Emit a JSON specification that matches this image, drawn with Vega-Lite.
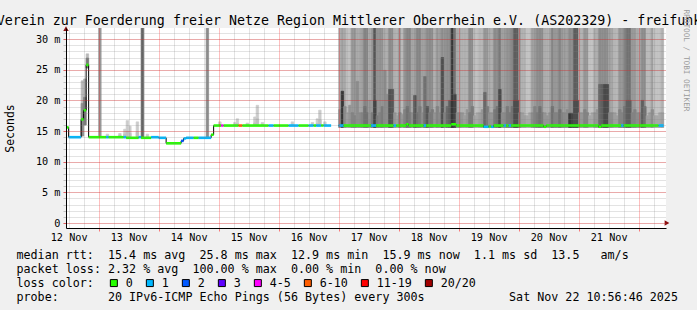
{
  "width": 600,
  "height": 200,
  "autosize": {"type": "none"},
  "padding": {"left": 66, "top": 28, "right": 31, "bottom": 82},
  "background": "#f0f0f0",
  "config": {
    "view": {"fill": "#ffffff", "stroke": null},
    "font": "DejaVu Sans Mono",
    "axis": {"labelFont": "DejaVu Sans Mono", "titleFont": "DejaVu Sans Mono"}
  },
  "datasets": {
    "smoke": [
      {"t":"2025-11-12T17:00","t2":"2025-11-12T18:00","lo":14.2,"mid":19.5,"hi":23.2,"up":0.15,"low":0.4},
      {"t":"2025-11-12T18:00","t2":"2025-11-12T19:00","lo":16.0,"mid":20.5,"hi":23.5,"up":0.2,"low":0.5},
      {"t":"2025-11-12T19:00","t2":"2025-11-12T20:00","lo":25.3,"mid":26.9,"hi":27.6,"up":0.15,"low":0.5},
      {"t":"2025-11-13T00:00","t2":"2025-11-13T01:00","lo":14.1,"mid":14.1,"hi":45,"up":0.33,"low":0.33},
      {"t":"2025-11-13T03:00","t2":"2025-11-13T04:00","lo":14.1,"mid":14.2,"hi":14.5,"up":0.05,"low":0.12},
      {"t":"2025-11-13T08:00","t2":"2025-11-13T09:00","lo":14.1,"mid":14.3,"hi":14.6,"up":0.05,"low":0.12},
      {"t":"2025-11-13T10:00","t2":"2025-11-13T11:00","lo":14.1,"mid":14.5,"hi":15.3,"up":0.04,"low":0.1},
      {"t":"2025-11-13T11:00","t2":"2025-11-13T12:00","lo":14.1,"mid":15.0,"hi":16.7,"up":0.05,"low":0.12},
      {"t":"2025-11-13T12:00","t2":"2025-11-13T13:00","lo":14.1,"mid":14.6,"hi":15.8,"up":0.04,"low":0.1},
      {"t":"2025-11-13T15:00","t2":"2025-11-13T16:00","lo":14.1,"mid":14.8,"hi":16.5,"up":0.05,"low":0.12},
      {"t":"2025-11-13T17:00","t2":"2025-11-13T18:00","lo":14.1,"mid":14.1,"hi":45,"up":0.62,"low":0.62},
      {"t":"2025-11-13T19:00","t2":"2025-11-13T20:00","lo":14.1,"mid":14.2,"hi":14.5,"up":0.04,"low":0.1},
      {"t":"2025-11-14T19:00","t2":"2025-11-14T20:00","lo":14.0,"mid":14.0,"hi":45,"up":0.4,"low":0.4},
      {"t":"2025-11-15T00:00","t2":"2025-11-15T01:00","lo":15.9,"mid":16.1,"hi":16.5,"up":0.04,"low":0.1},
      {"t":"2025-11-15T06:00","t2":"2025-11-15T07:00","lo":15.9,"mid":16.1,"hi":16.4,"up":0.04,"low":0.1},
      {"t":"2025-11-15T07:00","t2":"2025-11-15T08:00","lo":15.9,"mid":16.2,"hi":17.0,"up":0.04,"low":0.1},
      {"t":"2025-11-15T11:00","t2":"2025-11-15T12:00","lo":15.9,"mid":16.1,"hi":16.3,"up":0.04,"low":0.1},
      {"t":"2025-11-15T14:00","t2":"2025-11-15T15:00","lo":15.9,"mid":16.3,"hi":17.3,"up":0.04,"low":0.1},
      {"t":"2025-11-15T15:00","t2":"2025-11-15T16:00","lo":15.9,"mid":17.0,"hi":19.2,"up":0.05,"low":0.12},
      {"t":"2025-11-15T17:00","t2":"2025-11-15T18:00","lo":15.9,"mid":16.1,"hi":16.4,"up":0.04,"low":0.1},
      {"t":"2025-11-16T05:00","t2":"2025-11-16T06:00","lo":15.9,"mid":16.1,"hi":16.5,"up":0.04,"low":0.1},
      {"t":"2025-11-16T13:00","t2":"2025-11-16T14:00","lo":15.9,"mid":16.1,"hi":16.4,"up":0.04,"low":0.1},
      {"t":"2025-11-16T15:00","t2":"2025-11-16T16:00","lo":15.9,"mid":16.2,"hi":17.0,"up":0.04,"low":0.1},
      {"t":"2025-11-16T16:00","t2":"2025-11-16T17:00","lo":15.9,"mid":16.8,"hi":18.4,"up":0.05,"low":0.12},
      {"t":"2025-11-16T18:00","t2":"2025-11-16T19:00","lo":15.9,"mid":16.1,"hi":16.5,"up":0.04,"low":0.1},
      {"t":"2025-11-17T00:00","t2":"2025-11-17T01:00","lo":15.6,"mid":18.5,"hi":45,"up":0.2,"low":0.35},
      {"t":"2025-11-17T01:00","t2":"2025-11-17T02:00","lo":15.6,"mid":21.5,"hi":45,"up":0.3,"low":0.87},
      {"t":"2025-11-17T02:00","t2":"2025-11-17T03:00","lo":15.6,"mid":19,"hi":45,"up":0.25,"low":0.4},
      {"t":"2025-11-17T03:00","t2":"2025-11-17T04:00","lo":15.6,"mid":18,"hi":45,"up":0.15,"low":0.3},
      {"t":"2025-11-17T04:00","t2":"2025-11-17T05:00","lo":15.6,"mid":19.2,"hi":45,"up":0.1,"low":0.35},
      {"t":"2025-11-17T05:00","t2":"2025-11-17T06:00","lo":15.6,"mid":18,"hi":45,"up":0.35,"low":0.45},
      {"t":"2025-11-17T06:00","t2":"2025-11-17T07:00","lo":15.6,"mid":17.5,"hi":45,"up":0.35,"low":0.45},
      {"t":"2025-11-17T07:00","t2":"2025-11-17T08:00","lo":15.6,"mid":23.1,"hi":45,"up":0.25,"low":0.4},
      {"t":"2025-11-17T08:00","t2":"2025-11-17T09:00","lo":15.6,"mid":18,"hi":45,"up":0.25,"low":0.4},
      {"t":"2025-11-17T09:00","t2":"2025-11-17T10:00","lo":15.6,"mid":18,"hi":45,"up":0.3,"low":0.45},
      {"t":"2025-11-17T10:00","t2":"2025-11-17T11:00","lo":15.6,"mid":19,"hi":45,"up":0.44,"low":0.55},
      {"t":"2025-11-17T11:00","t2":"2025-11-17T12:00","lo":15.6,"mid":18,"hi":45,"up":0.44,"low":0.55},
      {"t":"2025-11-17T12:00","t2":"2025-11-17T13:00","lo":15.6,"mid":20,"hi":45,"up":0.2,"low":0.35},
      {"t":"2025-11-17T13:00","t2":"2025-11-17T14:00","lo":15.6,"mid":18,"hi":45,"up":0.35,"low":0.5},
      {"t":"2025-11-17T14:00","t2":"2025-11-17T15:00","lo":15.6,"mid":20,"hi":45,"up":0.7,"low":0.8},
      {"t":"2025-11-17T15:00","t2":"2025-11-17T16:00","lo":15.6,"mid":17.5,"hi":45,"up":0.37,"low":0.5},
      {"t":"2025-11-17T16:00","t2":"2025-11-17T17:00","lo":15.6,"mid":18,"hi":45,"up":0.37,"low":0.45},
      {"t":"2025-11-17T17:00","t2":"2025-11-17T18:00","lo":15.6,"mid":19,"hi":45,"up":0.37,"low":0.5},
      {"t":"2025-11-17T18:00","t2":"2025-11-17T19:00","lo":15.6,"mid":24.9,"hi":45,"up":0.22,"low":0.4},
      {"t":"2025-11-17T19:00","t2":"2025-11-17T20:00","lo":15.6,"mid":21,"hi":45,"up":0.22,"low":0.4},
      {"t":"2025-11-17T20:00","t2":"2025-11-17T21:00","lo":15.6,"mid":21.8,"hi":45,"up":0.4,"low":0.72},
      {"t":"2025-11-17T21:00","t2":"2025-11-17T22:00","lo":15.6,"mid":21.8,"hi":45,"up":0.4,"low":0.7},
      {"t":"2025-11-17T22:00","t2":"2025-11-17T23:00","lo":15.6,"mid":18,"hi":45,"up":0.2,"low":0.35},
      {"t":"2025-11-17T23:00","t2":"2025-11-18T00:00","lo":15.6,"mid":17.5,"hi":45,"up":0.2,"low":0.3},
      {"t":"2025-11-18T00:00","t2":"2025-11-18T01:00","lo":15.6,"mid":18,"hi":45,"up":0.35,"low":0.45},
      {"t":"2025-11-18T01:00","t2":"2025-11-18T02:00","lo":15.6,"mid":17.7,"hi":45,"up":0.15,"low":0.35},
      {"t":"2025-11-18T02:00","t2":"2025-11-18T03:00","lo":15.6,"mid":18.5,"hi":45,"up":0.35,"low":0.45},
      {"t":"2025-11-18T03:00","t2":"2025-11-18T04:00","lo":15.6,"mid":19,"hi":45,"up":0.44,"low":0.55},
      {"t":"2025-11-18T04:00","t2":"2025-11-18T05:00","lo":15.6,"mid":18,"hi":45,"up":0.44,"low":0.5},
      {"t":"2025-11-18T05:00","t2":"2025-11-18T06:00","lo":15.6,"mid":18,"hi":45,"up":0.27,"low":0.4},
      {"t":"2025-11-18T06:00","t2":"2025-11-18T07:00","lo":15.6,"mid":20.8,"hi":45,"up":0.27,"low":0.7},
      {"t":"2025-11-18T07:00","t2":"2025-11-18T08:00","lo":15.6,"mid":18,"hi":45,"up":0.44,"low":0.55},
      {"t":"2025-11-18T08:00","t2":"2025-11-18T09:00","lo":15.6,"mid":19,"hi":45,"up":0.44,"low":0.5},
      {"t":"2025-11-18T09:00","t2":"2025-11-18T10:00","lo":15.6,"mid":18,"hi":45,"up":0.3,"low":0.4},
      {"t":"2025-11-18T10:00","t2":"2025-11-18T11:00","lo":15.6,"mid":23.9,"hi":45,"up":0.3,"low":0.55},
      {"t":"2025-11-18T11:00","t2":"2025-11-18T12:00","lo":15.6,"mid":19,"hi":45,"up":0.4,"low":0.7},
      {"t":"2025-11-18T12:00","t2":"2025-11-18T13:00","lo":15.6,"mid":18,"hi":45,"up":0.4,"low":0.5},
      {"t":"2025-11-18T13:00","t2":"2025-11-18T14:00","lo":15.6,"mid":18.5,"hi":45,"up":0.4,"low":0.5},
      {"t":"2025-11-18T14:00","t2":"2025-11-18T15:00","lo":15.6,"mid":18,"hi":45,"up":0.2,"low":0.35},
      {"t":"2025-11-18T15:00","t2":"2025-11-18T16:00","lo":15.6,"mid":19,"hi":45,"up":0.35,"low":0.45},
      {"t":"2025-11-18T16:00","t2":"2025-11-18T17:00","lo":15.6,"mid":18,"hi":45,"up":0.3,"low":0.4},
      {"t":"2025-11-18T17:00","t2":"2025-11-18T18:00","lo":15.6,"mid":27,"hi":45,"up":0.4,"low":0.74},
      {"t":"2025-11-18T18:00","t2":"2025-11-18T19:00","lo":15.6,"mid":18,"hi":45,"up":0.35,"low":0.45},
      {"t":"2025-11-18T19:00","t2":"2025-11-18T20:00","lo":15.6,"mid":19,"hi":45,"up":0.4,"low":0.6},
      {"t":"2025-11-18T20:00","t2":"2025-11-18T21:00","lo":15.6,"mid":20,"hi":45,"up":0.4,"low":0.65},
      {"t":"2025-11-18T21:00","t2":"2025-11-18T22:00","lo":15.6,"mid":20,"hi":45,"up":0.87,"low":0.87},
      {"t":"2025-11-18T22:00","t2":"2025-11-18T23:00","lo":15.6,"mid":21,"hi":45,"up":0.55,"low":0.8},
      {"t":"2025-11-18T23:00","t2":"2025-11-19T00:00","lo":15.6,"mid":18,"hi":45,"up":0.25,"low":0.4},
      {"t":"2025-11-19T00:00","t2":"2025-11-19T01:00","lo":15.6,"mid":18,"hi":45,"up":0.25,"low":0.4},
      {"t":"2025-11-19T01:00","t2":"2025-11-19T02:00","lo":15.6,"mid":18,"hi":45,"up":0.2,"low":0.35},
      {"t":"2025-11-19T02:00","t2":"2025-11-19T03:00","lo":15.6,"mid":17.5,"hi":45,"up":0.2,"low":0.3},
      {"t":"2025-11-19T03:00","t2":"2025-11-19T04:00","lo":15.6,"mid":18.5,"hi":45,"up":0.2,"low":0.35},
      {"t":"2025-11-19T04:00","t2":"2025-11-19T05:00","lo":15.6,"mid":18,"hi":45,"up":0.4,"low":0.5},
      {"t":"2025-11-19T05:00","t2":"2025-11-19T06:00","lo":15.6,"mid":19,"hi":45,"up":0.4,"low":0.5},
      {"t":"2025-11-19T06:00","t2":"2025-11-19T07:00","lo":15.6,"mid":17.5,"hi":45,"up":0.12,"low":0.25},
      {"t":"2025-11-19T07:00","t2":"2025-11-19T08:00","lo":15.6,"mid":18,"hi":45,"up":0.12,"low":0.25},
      {"t":"2025-11-19T08:00","t2":"2025-11-19T09:00","lo":15.6,"mid":18,"hi":45,"up":0.17,"low":0.3},
      {"t":"2025-11-19T09:00","t2":"2025-11-19T10:00","lo":15.6,"mid":18.5,"hi":45,"up":0.17,"low":0.35},
      {"t":"2025-11-19T10:00","t2":"2025-11-19T11:00","lo":15.6,"mid":21.3,"hi":45,"up":0.35,"low":0.6},
      {"t":"2025-11-19T11:00","t2":"2025-11-19T12:00","lo":15.6,"mid":19,"hi":45,"up":0.35,"low":0.5},
      {"t":"2025-11-19T12:00","t2":"2025-11-19T13:00","lo":15.6,"mid":18,"hi":45,"up":0.22,"low":0.35},
      {"t":"2025-11-19T13:00","t2":"2025-11-19T14:00","lo":15.6,"mid":18,"hi":45,"up":0.22,"low":0.35},
      {"t":"2025-11-19T14:00","t2":"2025-11-19T15:00","lo":15.6,"mid":18.5,"hi":45,"up":0.4,"low":0.5},
      {"t":"2025-11-19T15:00","t2":"2025-11-19T16:00","lo":15.6,"mid":19,"hi":45,"up":0.4,"low":0.55},
      {"t":"2025-11-19T16:00","t2":"2025-11-19T17:00","lo":15.6,"mid":21.8,"hi":45,"up":0.5,"low":0.76},
      {"t":"2025-11-19T17:00","t2":"2025-11-19T18:00","lo":15.6,"mid":18,"hi":45,"up":0.3,"low":0.4},
      {"t":"2025-11-19T18:00","t2":"2025-11-19T19:00","lo":15.6,"mid":18,"hi":45,"up":0.3,"low":0.4},
      {"t":"2025-11-19T19:00","t2":"2025-11-19T20:00","lo":15.6,"mid":19,"hi":45,"up":0.37,"low":0.5},
      {"t":"2025-11-19T20:00","t2":"2025-11-19T21:00","lo":15.6,"mid":18,"hi":45,"up":0.37,"low":0.5},
      {"t":"2025-11-19T21:00","t2":"2025-11-19T22:00","lo":15.6,"mid":19,"hi":45,"up":0.44,"low":0.55},
      {"t":"2025-11-19T22:00","t2":"2025-11-19T23:00","lo":15.6,"mid":20,"hi":45,"up":0.66,"low":0.75},
      {"t":"2025-11-19T23:00","t2":"2025-11-20T00:00","lo":15.6,"mid":20,"hi":45,"up":0.66,"low":0.75},
      {"t":"2025-11-20T00:00","t2":"2025-11-20T01:00","lo":15.6,"mid":18,"hi":45,"up":0.34,"low":0.45},
      {"t":"2025-11-20T01:00","t2":"2025-11-20T02:00","lo":15.6,"mid":18,"hi":45,"up":0.2,"low":0.3},
      {"t":"2025-11-20T02:00","t2":"2025-11-20T03:00","lo":15.6,"mid":17.5,"hi":45,"up":0.2,"low":0.3},
      {"t":"2025-11-20T03:00","t2":"2025-11-20T04:00","lo":15.6,"mid":17.5,"hi":45,"up":0.1,"low":0.25},
      {"t":"2025-11-20T04:00","t2":"2025-11-20T05:00","lo":15.6,"mid":18,"hi":45,"up":0.1,"low":0.25},
      {"t":"2025-11-20T05:00","t2":"2025-11-20T06:00","lo":15.6,"mid":18,"hi":45,"up":0.3,"low":0.4},
      {"t":"2025-11-20T06:00","t2":"2025-11-20T07:00","lo":15.6,"mid":19,"hi":45,"up":0.3,"low":0.45},
      {"t":"2025-11-20T07:00","t2":"2025-11-20T08:00","lo":15.6,"mid":18,"hi":45,"up":0.4,"low":0.5},
      {"t":"2025-11-20T08:00","t2":"2025-11-20T09:00","lo":15.6,"mid":19,"hi":45,"up":0.4,"low":0.55},
      {"t":"2025-11-20T09:00","t2":"2025-11-20T10:00","lo":15.6,"mid":18,"hi":45,"up":0.4,"low":0.5},
      {"t":"2025-11-20T10:00","t2":"2025-11-20T11:00","lo":15.6,"mid":18,"hi":45,"up":0.22,"low":0.35},
      {"t":"2025-11-20T11:00","t2":"2025-11-20T12:00","lo":15.6,"mid":17.5,"hi":45,"up":0.22,"low":0.35},
      {"t":"2025-11-20T12:00","t2":"2025-11-20T13:00","lo":15.6,"mid":18,"hi":45,"up":0.22,"low":0.35},
      {"t":"2025-11-20T13:00","t2":"2025-11-20T14:00","lo":15.6,"mid":19,"hi":45,"up":0.44,"low":0.55},
      {"t":"2025-11-20T14:00","t2":"2025-11-20T15:00","lo":15.6,"mid":18,"hi":45,"up":0.34,"low":0.45},
      {"t":"2025-11-20T15:00","t2":"2025-11-20T16:00","lo":15.6,"mid":18,"hi":45,"up":0.35,"low":0.45},
      {"t":"2025-11-20T16:00","t2":"2025-11-20T17:00","lo":15.6,"mid":18.5,"hi":45,"up":0.44,"low":0.55},
      {"t":"2025-11-20T17:00","t2":"2025-11-20T18:00","lo":15.6,"mid":18,"hi":45,"up":0.35,"low":0.45},
      {"t":"2025-11-20T18:00","t2":"2025-11-20T19:00","lo":15.6,"mid":18,"hi":45,"up":0.3,"low":0.4},
      {"t":"2025-11-20T19:00","t2":"2025-11-20T20:00","lo":15.6,"mid":18.5,"hi":45,"up":0.3,"low":0.4},
      {"t":"2025-11-20T20:00","t2":"2025-11-20T21:00","lo":15.6,"mid":17.9,"hi":45,"up":0.4,"low":0.87},
      {"t":"2025-11-20T21:00","t2":"2025-11-20T22:00","lo":15.6,"mid":17.9,"hi":45,"up":0.4,"low":0.8},
      {"t":"2025-11-20T22:00","t2":"2025-11-20T23:00","lo":15.6,"mid":20,"hi":45,"up":0.66,"low":0.75},
      {"t":"2025-11-20T23:00","t2":"2025-11-21T00:00","lo":15.6,"mid":20,"hi":45,"up":0.66,"low":0.75},
      {"t":"2025-11-21T00:00","t2":"2025-11-21T01:00","lo":15.6,"mid":18,"hi":45,"up":0.2,"low":0.35},
      {"t":"2025-11-21T01:00","t2":"2025-11-21T02:00","lo":15.6,"mid":18,"hi":45,"up":0.2,"low":0.35},
      {"t":"2025-11-21T02:00","t2":"2025-11-21T03:00","lo":15.6,"mid":18.5,"hi":45,"up":0.35,"low":0.45},
      {"t":"2025-11-21T03:00","t2":"2025-11-21T04:00","lo":15.6,"mid":18,"hi":45,"up":0.35,"low":0.45},
      {"t":"2025-11-21T04:00","t2":"2025-11-21T05:00","lo":15.6,"mid":17.5,"hi":45,"up":0.1,"low":0.25},
      {"t":"2025-11-21T05:00","t2":"2025-11-21T06:00","lo":15.6,"mid":18,"hi":45,"up":0.1,"low":0.25},
      {"t":"2025-11-21T06:00","t2":"2025-11-21T07:00","lo":15.6,"mid":18,"hi":45,"up":0.22,"low":0.35},
      {"t":"2025-11-21T07:00","t2":"2025-11-21T08:00","lo":15.6,"mid":18.5,"hi":45,"up":0.22,"low":0.35},
      {"t":"2025-11-21T08:00","t2":"2025-11-21T09:00","lo":15.6,"mid":22.6,"hi":45,"up":0.4,"low":0.6},
      {"t":"2025-11-21T09:00","t2":"2025-11-21T10:00","lo":15.6,"mid":22.6,"hi":45,"up":0.4,"low":0.65},
      {"t":"2025-11-21T10:00","t2":"2025-11-21T11:00","lo":15.6,"mid":22.6,"hi":45,"up":0.4,"low":0.76},
      {"t":"2025-11-21T11:00","t2":"2025-11-21T12:00","lo":15.6,"mid":22.6,"hi":45,"up":0.4,"low":0.76},
      {"t":"2025-11-21T12:00","t2":"2025-11-21T13:00","lo":15.6,"mid":18,"hi":45,"up":0.27,"low":0.4},
      {"t":"2025-11-21T13:00","t2":"2025-11-21T14:00","lo":15.6,"mid":18,"hi":45,"up":0.27,"low":0.4},
      {"t":"2025-11-21T14:00","t2":"2025-11-21T15:00","lo":15.6,"mid":18,"hi":45,"up":0.17,"low":0.3},
      {"t":"2025-11-21T15:00","t2":"2025-11-21T16:00","lo":15.6,"mid":17.5,"hi":45,"up":0.17,"low":0.3},
      {"t":"2025-11-21T16:00","t2":"2025-11-21T17:00","lo":15.6,"mid":18.5,"hi":45,"up":0.35,"low":0.45},
      {"t":"2025-11-21T17:00","t2":"2025-11-21T18:00","lo":15.6,"mid":18,"hi":45,"up":0.35,"low":0.45},
      {"t":"2025-11-21T18:00","t2":"2025-11-21T19:00","lo":15.6,"mid":19,"hi":45,"up":0.44,"low":0.55},
      {"t":"2025-11-21T19:00","t2":"2025-11-21T20:00","lo":15.6,"mid":20,"hi":45,"up":0.55,"low":0.65},
      {"t":"2025-11-21T20:00","t2":"2025-11-21T21:00","lo":15.6,"mid":20,"hi":45,"up":0.55,"low":0.65},
      {"t":"2025-11-21T21:00","t2":"2025-11-21T22:00","lo":15.6,"mid":18,"hi":45,"up":0.34,"low":0.45},
      {"t":"2025-11-21T22:00","t2":"2025-11-21T23:00","lo":15.6,"mid":18.5,"hi":45,"up":0.34,"low":0.45},
      {"t":"2025-11-21T23:00","t2":"2025-11-22T00:00","lo":15.6,"mid":18,"hi":45,"up":0.25,"low":0.4},
      {"t":"2025-11-22T00:00","t2":"2025-11-22T01:00","lo":15.6,"mid":18,"hi":45,"up":0.25,"low":0.4},
      {"t":"2025-11-22T01:00","t2":"2025-11-22T02:00","lo":15.6,"mid":20,"hi":45,"up":0.4,"low":0.65},
      {"t":"2025-11-22T02:00","t2":"2025-11-22T03:00","lo":15.6,"mid":19,"hi":45,"up":0.4,"low":0.55},
      {"t":"2025-11-22T03:00","t2":"2025-11-22T04:00","lo":15.6,"mid":17.5,"hi":45,"up":0.15,"low":0.3},
      {"t":"2025-11-22T04:00","t2":"2025-11-22T05:00","lo":15.6,"mid":18,"hi":45,"up":0.15,"low":0.3},
      {"t":"2025-11-22T05:00","t2":"2025-11-22T06:00","lo":15.6,"mid":18.5,"hi":45,"up":0.3,"low":0.4},
      {"t":"2025-11-22T06:00","t2":"2025-11-22T07:00","lo":15.6,"mid":17.5,"hi":45,"up":0.1,"low":0.25},
      {"t":"2025-11-22T07:00","t2":"2025-11-22T08:00","lo":15.6,"mid":17.5,"hi":45,"up":0.1,"low":0.25},
      {"t":"2025-11-22T08:00","t2":"2025-11-22T09:00","lo":15.6,"mid":18,"hi":45,"up":0.1,"low":0.25},
      {"t":"2025-11-22T09:00","t2":"2025-11-22T10:00","lo":15.6,"mid":18,"hi":45,"up":0.2,"low":0.3}
    ],
    "median": [
      {"s":"2025-11-12T11:00","e":"2025-11-12T12:00","m":15.6,"loss":"0","run":1},
      {"s":"2025-11-12T12:00","e":"2025-11-12T17:00","m":14.0,"loss":"1","run":1},
      {"s":"2025-11-12T17:00","e":"2025-11-12T18:00","m":16.9,"loss":"0","run":1},
      {"s":"2025-11-12T18:00","e":"2025-11-12T19:00","m":18.4,"loss":"0","run":1},
      {"s":"2025-11-12T19:00","e":"2025-11-12T20:00","m":25.8,"loss":"0","run":1},
      {"s":"2025-11-12T20:00","e":"2025-11-13T03:00","m":14.0,"loss":"0","run":1},
      {"s":"2025-11-13T03:00","e":"2025-11-13T04:00","m":14.0,"loss":"1","run":1},
      {"s":"2025-11-13T04:00","e":"2025-11-13T10:00","m":14.0,"loss":"0","run":1},
      {"s":"2025-11-13T10:00","e":"2025-11-13T11:00","m":14.0,"loss":"1","run":1},
      {"s":"2025-11-13T11:00","e":"2025-11-13T16:00","m":13.9,"loss":"0","run":1},
      {"s":"2025-11-13T16:00","e":"2025-11-13T17:00","m":14.0,"loss":"1","run":1},
      {"s":"2025-11-13T17:00","e":"2025-11-13T21:00","m":13.9,"loss":"0","run":1},
      {"s":"2025-11-13T21:00","e":"2025-11-14T00:00","m":14.0,"loss":"1","run":1},
      {"s":"2025-11-14T00:00","e":"2025-11-14T03:00","m":13.9,"loss":"1","run":1},
      {"s":"2025-11-14T03:00","e":"2025-11-14T09:00","m":13.0,"loss":"0","run":1},
      {"s":"2025-11-14T09:00","e":"2025-11-14T10:00","m":13.4,"loss":"2","run":1},
      {"s":"2025-11-14T10:00","e":"2025-11-14T11:00","m":13.8,"loss":"1","run":1},
      {"s":"2025-11-14T11:00","e":"2025-11-14T14:00","m":13.9,"loss":"1","run":1},
      {"s":"2025-11-14T14:00","e":"2025-11-14T16:00","m":13.9,"loss":"0","run":1},
      {"s":"2025-11-14T16:00","e":"2025-11-14T21:00","m":13.9,"loss":"1","run":1},
      {"s":"2025-11-14T21:00","e":"2025-11-14T22:00","m":14.4,"loss":"0","run":1},
      {"s":"2025-11-14T22:00","e":"2025-11-15T01:00","m":15.9,"loss":"0","run":1},
      {"s":"2025-11-15T01:00","e":"2025-11-15T02:00","m":15.9,"loss":"4-5","run":1},
      {"s":"2025-11-15T02:00","e":"2025-11-15T08:00","m":15.9,"loss":"0","run":1},
      {"s":"2025-11-15T08:00","e":"2025-11-15T09:30","m":15.9,"loss":"6-10","run":1},
      {"s":"2025-11-15T09:30","e":"2025-11-15T20:00","m":15.9,"loss":"0","run":1},
      {"s":"2025-11-15T20:00","e":"2025-11-15T22:00","m":15.9,"loss":"1","run":1},
      {"s":"2025-11-15T22:00","e":"2025-11-16T04:00","m":15.9,"loss":"0","run":1},
      {"s":"2025-11-16T04:00","e":"2025-11-16T08:00","m":15.9,"loss":"1","run":1},
      {"s":"2025-11-16T08:00","e":"2025-11-16T12:00","m":15.9,"loss":"0","run":1},
      {"s":"2025-11-16T12:00","e":"2025-11-16T14:00","m":15.9,"loss":"1","run":1},
      {"s":"2025-11-16T14:00","e":"2025-11-16T15:00","m":15.9,"loss":"0","run":1},
      {"s":"2025-11-16T15:00","e":"2025-11-16T17:00","m":15.9,"loss":"1","run":1},
      {"s":"2025-11-16T17:00","e":"2025-11-16T18:00","m":15.9,"loss":"0","run":1},
      {"s":"2025-11-16T18:00","e":"2025-11-16T21:00","m":15.9,"loss":"1","run":1},
      {"s":"2025-11-17T00:00","e":"2025-11-17T02:00","m":15.9,"loss":"1","run":2},
      {"s":"2025-11-17T02:00","e":"2025-11-17T13:00","m":15.9,"loss":"0","run":2},
      {"s":"2025-11-17T13:00","e":"2025-11-17T15:00","m":15.9,"loss":"1","run":2},
      {"s":"2025-11-17T15:00","e":"2025-11-17T22:00","m":15.9,"loss":"0","run":2},
      {"s":"2025-11-17T22:00","e":"2025-11-17T23:00","m":15.9,"loss":"1","run":2},
      {"s":"2025-11-17T23:00","e":"2025-11-18T03:00","m":15.9,"loss":"0","run":2},
      {"s":"2025-11-18T03:00","e":"2025-11-18T04:00","m":16.1,"loss":"0","run":2},
      {"s":"2025-11-18T04:00","e":"2025-11-18T10:00","m":15.9,"loss":"0","run":2},
      {"s":"2025-11-18T10:00","e":"2025-11-18T11:00","m":15.9,"loss":"1","run":2},
      {"s":"2025-11-18T11:00","e":"2025-11-18T21:00","m":15.9,"loss":"0","run":2},
      {"s":"2025-11-18T21:00","e":"2025-11-18T23:00","m":16.1,"loss":"0","run":2},
      {"s":"2025-11-18T23:00","e":"2025-11-19T10:00","m":15.9,"loss":"0","run":2},
      {"s":"2025-11-19T10:00","e":"2025-11-19T12:00","m":15.7,"loss":"1","run":2},
      {"s":"2025-11-19T12:00","e":"2025-11-19T13:00","m":15.8,"loss":"0","run":2},
      {"s":"2025-11-19T13:00","e":"2025-11-19T14:00","m":15.7,"loss":"1","run":2},
      {"s":"2025-11-19T14:00","e":"2025-11-19T18:00","m":15.9,"loss":"0","run":2},
      {"s":"2025-11-19T18:00","e":"2025-11-19T19:00","m":15.9,"loss":"1","run":2},
      {"s":"2025-11-19T19:00","e":"2025-11-19T20:00","m":15.9,"loss":"0","run":2},
      {"s":"2025-11-19T20:00","e":"2025-11-19T21:00","m":15.9,"loss":"1","run":2},
      {"s":"2025-11-19T21:00","e":"2025-11-20T10:00","m":15.9,"loss":"0","run":2},
      {"s":"2025-11-20T10:00","e":"2025-11-20T11:00","m":15.7,"loss":"0","run":2},
      {"s":"2025-11-20T11:00","e":"2025-11-21T08:00","m":15.9,"loss":"0","run":2},
      {"s":"2025-11-21T08:00","e":"2025-11-21T09:00","m":15.7,"loss":"0","run":2},
      {"s":"2025-11-21T09:00","e":"2025-11-21T17:00","m":15.9,"loss":"0","run":2},
      {"s":"2025-11-21T17:00","e":"2025-11-21T18:00","m":15.9,"loss":"1","run":2},
      {"s":"2025-11-21T18:00","e":"2025-11-22T08:00","m":15.9,"loss":"0","run":2},
      {"s":"2025-11-22T08:00","e":"2025-11-22T10:00","m":15.9,"loss":"1","run":2}
    ],
    "arrows": [
      {"t":"2025-11-22T11:20","v":0,"a":"x"},
      {"t":"2025-11-12T10:56:46","v":31.7,"a":"y"}
    ]
  },
  "layer": [
    {
      "data": {"name": "smoke"},
      "mark": {"type": "rect", "clip": true, "strokeWidth": 0.7, "opacity": 1, "fillOpacity": 1, "strokeOpacity": 1},
      "encoding": {
        "x": {"field": "t", "type": "temporal",
          "scale": {"domain": [{"year":2025,"month":11,"date":12,"hours":10,"minutes":56,"seconds":46},{"year":2025,"month":11,"date":22,"hours":10,"minutes":56,"seconds":46}]},
          "axis": {"orient": "bottom",
            "values": [
              {"year":2025,"month":11,"date":12,"hours":12},{"year":2025,"month":11,"date":12,"hours":18},
              {"year":2025,"month":11,"date":13,"hours":6},{"year":2025,"month":11,"date":13,"hours":12},{"year":2025,"month":11,"date":13,"hours":18},
              {"year":2025,"month":11,"date":14,"hours":6},{"year":2025,"month":11,"date":14,"hours":12},{"year":2025,"month":11,"date":14,"hours":18},
              {"year":2025,"month":11,"date":15,"hours":6},{"year":2025,"month":11,"date":15,"hours":12},{"year":2025,"month":11,"date":15,"hours":18},
              {"year":2025,"month":11,"date":16,"hours":6},{"year":2025,"month":11,"date":16,"hours":12},{"year":2025,"month":11,"date":16,"hours":18},
              {"year":2025,"month":11,"date":17,"hours":6},{"year":2025,"month":11,"date":17,"hours":12},{"year":2025,"month":11,"date":17,"hours":18},
              {"year":2025,"month":11,"date":18,"hours":6},{"year":2025,"month":11,"date":18,"hours":12},{"year":2025,"month":11,"date":18,"hours":18},
              {"year":2025,"month":11,"date":19,"hours":6},{"year":2025,"month":11,"date":19,"hours":12},{"year":2025,"month":11,"date":19,"hours":18},
              {"year":2025,"month":11,"date":20,"hours":6},{"year":2025,"month":11,"date":20,"hours":12},{"year":2025,"month":11,"date":20,"hours":18},
              {"year":2025,"month":11,"date":21,"hours":6},{"year":2025,"month":11,"date":21,"hours":12},{"year":2025,"month":11,"date":21,"hours":18},
              {"year":2025,"month":11,"date":22,"hours":6}
            ],
            "grid": true, "gridColor": "#808080", "gridOpacity": 0.45, "gridDash": [1, 1], "labels": false, "ticks": false, "domain": false, "title": null, "zindex": 1}},
        "x2": {"field": "t2"},
        "y": {"field": "lo", "type": "quantitative",
          "scale": {"domain": [0, 31], "nice": false, "zero": false},
          "axis": {"orient": "left", "values": [0,1,2,3,4,5,6,7,8,9,10,11,12,13,14,15,16,17,18,19,20,21,22,23,24,25,26,27,28,29,30,31], "grid": true, "gridColor": "#808080", "gridOpacity": 0.45, "gridDash": [1, 1], "labels": false, "ticks": true, "tickSize": 3, "tickColor": "#808080", "tickOpacity": 0.45, "domain": false, "title": null, "zindex": 1}},
        "y2": {"field": "hi"},
        "fill": {"field": "up", "type": "quantitative", "scale": {"domain": [0, 1], "range": ["#d4d4d4", "#202020"], "interpolate": "rgb"}, "legend": null},
        "stroke": {"field": "up", "type": "quantitative", "scale": {"domain": [0, 1], "range": ["#d4d4d4", "#202020"], "interpolate": "rgb"}, "legend": null}
      }
    },
    {
      "data": {"name": "smoke"},
      "mark": {"type": "rect", "clip": true, "strokeWidth": 0.7, "opacity": 1, "fillOpacity": 1, "strokeOpacity": 1},
      "encoding": {
        "x": {"field": "t", "type": "temporal",
          "scale": {"domain": [{"year":2025,"month":11,"date":12,"hours":10,"minutes":56,"seconds":46},{"year":2025,"month":11,"date":22,"hours":10,"minutes":56,"seconds":46}]},
          "axis": {"orient": "bottom",
            "values": [
              {"year":2025,"month":11,"date":13},{"year":2025,"month":11,"date":14},{"year":2025,"month":11,"date":15},
              {"year":2025,"month":11,"date":16},{"year":2025,"month":11,"date":17},{"year":2025,"month":11,"date":18},
              {"year":2025,"month":11,"date":19},{"year":2025,"month":11,"date":20},{"year":2025,"month":11,"date":21},
              {"year":2025,"month":11,"date":22}
            ],
            "grid": true, "gridColor": "#ff0000", "gridOpacity": 0.5, "gridDash": [1, 1], "labels": false, "ticks": true, "tickSize": 3, "tickColor": "#ff0000", "tickOpacity": 0.5, "domain": false, "title": null, "zindex": 1}},
        "x2": {"field": "t2"},
        "y": {"field": "lo", "type": "quantitative",
          "scale": {"domain": [0, 31], "nice": false, "zero": false},
          "axis": {"orient": "left", "values": [0, 5, 10, 15, 20, 25, 30], "grid": true, "gridColor": "#ff0000", "gridOpacity": 0.5, "gridDash": [1, 1], "labels": false, "ticks": true, "tickSize": 3, "tickColor": "#ff0000", "tickOpacity": 0.5, "domain": false, "title": null, "zindex": 1}},
        "y2": {"field": "mid"},
        "fill": {"field": "low", "type": "quantitative", "scale": {"domain": [0, 1], "range": ["#d4d4d4", "#202020"], "interpolate": "rgb"}, "legend": null},
        "stroke": {"field": "low", "type": "quantitative", "scale": {"domain": [0, 1], "range": ["#d4d4d4", "#202020"], "interpolate": "rgb"}, "legend": null}
      }
    },
    {
      "data": {"name": "median"},
      "mark": {"type": "line", "interpolate": "step-after", "color": "#000000", "strokeWidth": 1},
      "encoding": {
        "x": {"field": "s", "type": "temporal",
          "scale": {"domain": [{"year":2025,"month":11,"date":12,"hours":10,"minutes":56,"seconds":46},{"year":2025,"month":11,"date":22,"hours":10,"minutes":56,"seconds":46}]},
          "axis": {
            "orient": "bottom",
            "values": [
              {"year":2025,"month":11,"date":12,"hours":12},
              {"year":2025,"month":11,"date":13,"hours":12},
              {"year":2025,"month":11,"date":14,"hours":12},
              {"year":2025,"month":11,"date":15,"hours":12},
              {"year":2025,"month":11,"date":16,"hours":12},
              {"year":2025,"month":11,"date":17,"hours":12},
              {"year":2025,"month":11,"date":18,"hours":12},
              {"year":2025,"month":11,"date":19,"hours":12},
              {"year":2025,"month":11,"date":20,"hours":12},
              {"year":2025,"month":11,"date":21,"hours":12}
            ],
            "format": "%d %b",
            "labelFont": "DejaVu Sans Mono",
            "labelFontSize": 10.2,
            "labelColor": "#000000",
            "labelBaseline": "middle",
            "labelPadding": 9.5,
            "labelFlush": false,
            "labelOverlap": false,
            "ticks": false,
            "tickSize": 0,
            "grid": false,
            "domain": true,
            "domainColor": "#000000",
            "domainWidth": 1,
            "zindex": 1,
            "title": [
              "median rtt:\u00a0\u00a015.4 ms avg\u00a0\u00a025.8 ms max\u00a0\u00a012.9 ms min\u00a0\u00a015.9 ms now\u00a0\u00a01.1 ms sd\u00a0\u00a013.5\u00a0\u00a0\u00a0am/s",
              "packet loss: 2.32 % avg\u00a0\u00a0100.00 % max\u00a0\u00a00.00 % min\u00a0\u00a00.00 % now",
              "loss color:",
              "probe:\u00a0\u00a0\u00a0\u00a0\u00a0\u00a0\u00a020 IPv6-ICMP Echo Pings (56 Bytes) every 300s\u00a0\u00a0\u00a0\u00a0\u00a0\u00a0\u00a0\u00a0\u00a0\u00a0\u00a0\u00a0Sat Nov 22 10:56:46 2025"
            ],
            "titleFont": "DejaVu Sans Mono",
            "titleFontSize": 11.7,
            "titleFontWeight": "normal",
            "titleColor": "#000000",
            "titleAlign": "left",
            "titleAnchor": "start",
            "titleBaseline": "alphabetic",
            "titleLineHeight": 14,
            "titleX": -50,
            "titleY": 30.3
          }},
        "y": {"field": "m", "type": "quantitative",
          "scale": {"domain": [0, 31], "nice": false, "zero": false},
          "axis": {
            "orient": "left",
            "values": [0, 5, 10, 15, 20, 25, 30],
            "labelExpr": "datum.value == 0 ? '0' : datum.value + ' m'",
            "labelFont": "DejaVu Sans Mono",
            "labelFontSize": 10.2,
            "labelColor": "#000000",
            "labelPadding": 6,
            "ticks": false,
            "tickSize": 0,
            "grid": false,
            "domain": true,
            "domainColor": "#000000",
            "domainWidth": 1,
            "zindex": 1,
            "title": "Seconds",
            "titleFont": "DejaVu Sans Mono",
            "titleFontSize": 11.5,
            "titleFontWeight": "normal",
            "titleColor": "#000000",
            "titleAngle": 270,
            "titleAlign": "center",
            "titleBaseline": "middle",
            "titleX": -55.5,
            "titleY": 100
          }},
        "detail": {"field": "run", "type": "nominal"}
      }
    },
    {
      "data": {"name": "median"},
      "mark": {"type": "bar", "size": 2.6, "opacity": 1},
      "encoding": {
        "x": {"field": "s", "type": "temporal",
          "scale": {"domain": [{"year":2025,"month":11,"date":12,"hours":10,"minutes":56,"seconds":46},{"year":2025,"month":11,"date":22,"hours":10,"minutes":56,"seconds":46}]},
          "axis": {
            "orient": "top",
            "labels": false, "ticks": false, "domain": false, "grid": false,
            "title": "Verein zur Foerderung freier Netze Region Mittlerer Oberrhein e.V. (AS202329) - freifunk",
            "titleFont": "DejaVu Sans Mono",
            "titleFontSize": 13.3,
            "titleFontWeight": "normal",
            "titleColor": "#000000",
            "titleAlign": "center",
            "titleBaseline": "alphabetic",
            "titleX": 282.5,
            "titleY": -4
          }},
        "x2": {"field": "e"},
        "y": {"field": "m", "type": "quantitative",
          "scale": {"domain": [0, 31], "nice": false, "zero": false},
          "axis": {
            "orient": "right",
            "labels": false, "ticks": false, "domain": false, "grid": false,
            "title": "RRDTOOL / TOBI OETIKER",
            "titleFont": "DejaVu Sans Mono",
            "titleFontSize": 7.7,
            "titleFontWeight": "normal",
            "titleColor": "#9a9a9a",
            "titleAngle": 90,
            "titleAlign": "center",
            "titleBaseline": "middle",
            "titleX": 19.8,
            "titleY": 32
          }},
        "color": {
          "field": "loss", "type": "nominal",
          "scale": {
            "domain": ["0", "1", "2", "3", "4-5", "6-10", "11-19", "20/20"],
            "range": ["#26ff00", "#00b8ff", "#0059ff", "#5e00ff", "#ff00ff", "#ff5e00", "#ff0000", "#a10000"]
          },
          "legend": {
            "orient": "none",
            "legendX": 42,
            "legendY": 249,
            "direction": "horizontal",
            "title": null,
            "symbolType": "square",
            "symbolSize": 49,
            "symbolOpacity": 1,
            "symbolStrokeColor": "#000000",
            "symbolStrokeWidth": 1,
            "labelFont": "DejaVu Sans Mono",
            "labelFontSize": 11.7,
            "labelColor": "#000000",
            "labelOffset": 6,
            "columnPadding": 11
          }
        }
      }
    },
    {
      "data": {"name": "arrows"},
      "mark": {"type": "point", "filled": true, "size": 30, "color": "#8b1010", "opacity": 1},
      "encoding": {
        "x": {"field": "t", "type": "temporal",
          "scale": {"domain": [{"year":2025,"month":11,"date":12,"hours":10,"minutes":56,"seconds":46},{"year":2025,"month":11,"date":22,"hours":10,"minutes":56,"seconds":46}]},
          "axis": null},
        "y": {"field": "v", "type": "quantitative", "scale": {"domain": [0, 31], "nice": false, "zero": false}, "axis": null},
        "shape": {"field": "a", "type": "nominal", "scale": {"domain": ["x", "y"], "range": ["triangle-right", "triangle-up"]}, "legend": null}
      }
    }
  ],
  "resolve": {"axis": {"x": "independent", "y": "independent"}}
}
